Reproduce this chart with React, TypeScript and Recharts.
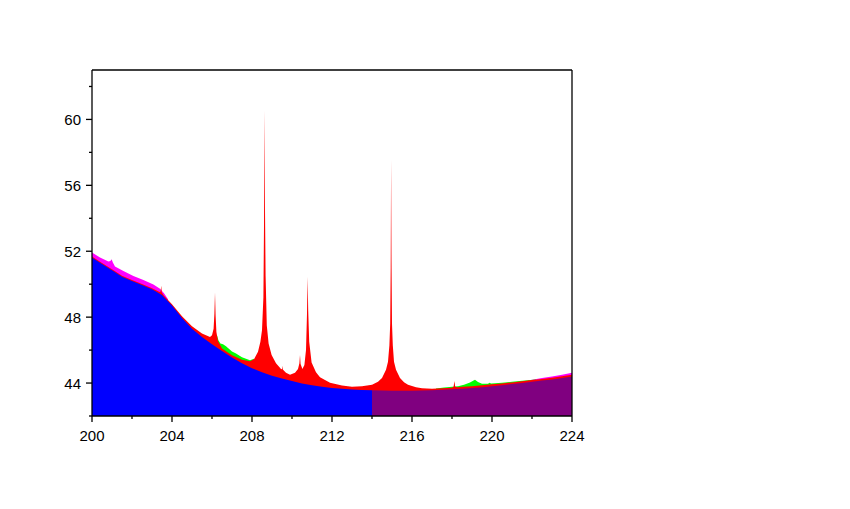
import { ComposedChart, XAxis, YAxis, Area } from "recharts";

type Pt = [number, number];

// background level, split in two colours at 214
const blueBase: Pt[] = [
  [200, 51.62], [200.5, 51.22], [201, 50.85], [201.5, 50.45], [202, 50.2], [202.5, 49.95],
  [203, 49.7], [203.5, 49.35], [204, 48.7], [204.5, 47.95], [205, 47.3], [205.5, 46.8],
  [206, 46.35], [206.5, 45.95], [207, 45.55], [207.5, 45.2], [208, 44.9], [208.5, 44.65],
  [209, 44.45], [209.5, 44.28], [210, 44.12], [210.5, 43.98], [211, 43.86], [211.5, 43.77],
  [212, 43.7], [212.5, 43.65], [213, 43.61], [213.5, 43.58], [214, 43.56],
];

const purpleBase: Pt[] = [
  [214, 43.56], [214.5, 43.55], [215, 43.54], [215.5, 43.54], [216, 43.54], [216.5, 43.55],
  [217, 43.57], [217.5, 43.59], [218, 43.62], [218.5, 43.66], [219, 43.7], [219.5, 43.75],
  [220, 43.81], [220.5, 43.87], [221, 43.94], [221.5, 44.01], [222, 44.08], [222.5, 44.15],
  [223, 44.22], [223.5, 44.3], [224, 44.4],
];

const redTop: Pt[] = [
  [200, 51.68], [200.5, 51.28], [201, 50.91], [201.5, 50.51], [202, 50.26], [202.5, 50.01],
  [203, 49.76], [203.38, 49.52], [203.43, 49.55], [203.46, 49.9], [203.49, 49.5], [203.6, 49.3],
  [204, 48.78], [204.5, 48.05], [205, 47.44], [205.5, 47.0], [205.9, 46.8], [206.0, 46.9],
  [206.08, 47.3], [206.12, 48.2], [206.15, 49.5], [206.18, 48.1], [206.22, 47.1], [206.3, 46.55],
  [206.5, 46.1], [207, 45.68], [207.5, 45.42], [207.9, 45.33], [208.1, 45.45], [208.3, 45.9],
  [208.42, 46.5], [208.5, 47.2], [208.57, 49.2], [208.6, 53.5], [208.625, 60.55], [208.65, 54.5],
  [208.68, 50.5], [208.74, 47.5], [208.83, 46.4], [208.98, 45.7], [209.2, 45.2], [209.45, 44.85],
  [209.5, 44.84], [209.52, 45.05], [209.54, 44.82], [209.7, 44.62], [209.9, 44.5], [210.15, 44.62],
  [210.3, 44.85], [210.37, 45.2], [210.4, 45.7], [210.43, 45.15], [210.52, 44.85], [210.62, 45.1],
  [210.7, 46.0], [210.75, 48.2], [210.78, 50.45], [210.81, 48.4], [210.86, 46.5], [210.98, 45.25],
  [211.2, 44.65], [211.4, 44.35], [211.9, 44.02], [212.5, 43.85], [213, 43.78], [213.5, 43.8],
  [214, 43.9], [214.3, 44.08], [214.5, 44.3], [214.7, 44.8], [214.8, 45.3], [214.87, 46.3],
  [214.91, 47.6], [214.935, 51.0], [214.955, 57.55], [214.975, 51.5], [215.0, 47.6], [215.04, 46.3],
  [215.1, 45.3], [215.2, 44.8], [215.4, 44.3], [215.6, 44.05], [215.8, 43.9], [216.2, 43.75],
  [216.5, 43.68], [217, 43.66], [217.5, 43.68], [218, 43.72], [218.08, 43.78], [218.12, 44.12],
  [218.16, 43.78], [218.3, 43.75], [218.5, 43.77], [219, 43.8], [219.5, 43.86], [220, 43.92],
  [220.5, 43.98], [221, 44.04], [221.5, 44.11], [222, 44.18], [222.5, 44.25], [223, 44.32],
  [223.5, 44.41], [224, 44.5],
];

const greenTopA: Pt[] = [
  [206.25, 46.9], [206.32, 46.6], [206.42, 46.4], [206.55, 46.36], [206.7, 46.24], [207, 45.92],
  [207.2, 45.8], [207.5, 45.56], [207.9, 45.38], [208.1, 45.48],
];

const greenTopB: Pt[] = [
  [217.2, 43.67], [217.6, 43.73], [218, 43.77], [218.3, 43.81], [218.6, 43.9], [218.9, 44.03],
  [219.08, 44.15], [219.15, 44.2], [219.3, 44.06], [219.5, 43.96], [219.8, 43.95], [219.88, 44.02],
  [219.95, 43.97], [220.5, 44.02], [221, 44.08], [221.5, 44.14], [222.2, 44.21],
];

const magentaTopA: Pt[] = [
  [200, 51.92], [200.4, 51.62], [200.82, 51.37], [200.92, 51.4], [200.98, 51.52], [201.05, 51.3],
  [201.15, 51.08], [201.57, 50.8], [202.07, 50.5], [202.57, 50.25], [203.07, 49.98], [203.4, 49.72],
  [203.6, 49.45], [203.8, 49.08],
];

const magentaTopB: Pt[] = [
  [221.8, 44.15], [222.5, 44.3], [223, 44.4], [223.5, 44.5], [224, 44.62],
];

const xTicks = [200, 202, 204, 206, 208, 210, 212, 214, 216, 218, 220, 222, 224];
const yTicks = [42, 44, 46, 48, 50, 52, 54, 56, 58, 60, 62];

const toRows = (pts: Pt[]) => pts.map(([x, y]) => ({ x, y }));

const font = "'Liberation Sans', Arial, sans-serif";

function YTick(props: any) {
  const { x, y, payload } = props;
  const major = payload.value % 4 === 0;
  return (
    <g>
      <line x1={x} x2={x - (major ? 6 : 3)} y1={y} y2={y} stroke="#000" strokeWidth={1.3} />
      {major && (
        <text x={x - 11} y={y + 5.5} textAnchor="end" fontSize={15} fontFamily={font} fill="#000">
          {payload.value}
        </text>
      )}
    </g>
  );
}

function XTick(props: any) {
  const { x, y, payload } = props;
  const major = payload.value % 4 === 0;
  return (
    <g>
      <line x1={x} x2={x} y1={y} y2={y + (major ? 6 : 3)} stroke="#000" strokeWidth={1.3} />
      {major && (
        <text x={x} y={y + 24.5} textAnchor="middle" fontSize={15} fontFamily={font} fill="#000">
          {payload.value}
        </text>
      )}
    </g>
  );
}

// back to front
const layers = [
  { data: magentaTopA, color: "#ff00ff" },
  { data: magentaTopB, color: "#ff00ff" },
  { data: greenTopA, color: "#00ff00" },
  { data: greenTopB, color: "#00ff00" },
  { data: redTop, color: "#ff0000" },
  { data: blueBase, color: "#0000ff" },
  { data: purpleBase, color: "#800080" },
];

export default function App() {
  return (
    <div style={{ position: "absolute", left: 0, top: 0, background: "#fff" }}>
      <ComposedChart width={850} height={509} margin={{ top: 69, right: 277, bottom: 53, left: 32 }}>
        <XAxis
          type="number"
          dataKey="x"
          domain={[200, 224]}
          ticks={xTicks}
          allowDataOverflow
          height={40}
          tickSize={0}
          tickMargin={0}
          tickLine={false}
          tick={<XTick />}
          interval={0}
          axisLine={{ stroke: "#000", strokeWidth: 1.3 }}
        />
        <XAxis
          xAxisId="top"
          orientation="top"
          type="number"
          domain={[200, 224]}
          height={1}
          tick={false}
          tickLine={false}
          axisLine={{ stroke: "#000", strokeWidth: 1.3 }}
        />
        <YAxis
          type="number"
          domain={[42, 63]}
          ticks={yTicks}
          allowDataOverflow
          width={60}
          tickSize={0}
          tickMargin={0}
          tickLine={false}
          tick={<YTick />}
          interval={0}
          axisLine={{ stroke: "#000", strokeWidth: 1.3 }}
        />
        <YAxis
          yAxisId="right"
          orientation="right"
          type="number"
          domain={[42, 63]}
          width={1}
          tick={false}
          tickLine={false}
          axisLine={{ stroke: "#000", strokeWidth: 1.3 }}
        />
        {layers.map((l, i) => (
          <Area
            key={i}
            data={toRows(l.data)}
            dataKey="y"
            type="linear"
            stroke="none"
            fill={l.color}
            fillOpacity={1}
            baseValue={42}
            isAnimationActive={false}
            dot={false}
            activeDot={false}
          />
        ))}
      </ComposedChart>
    </div>
  );
}
